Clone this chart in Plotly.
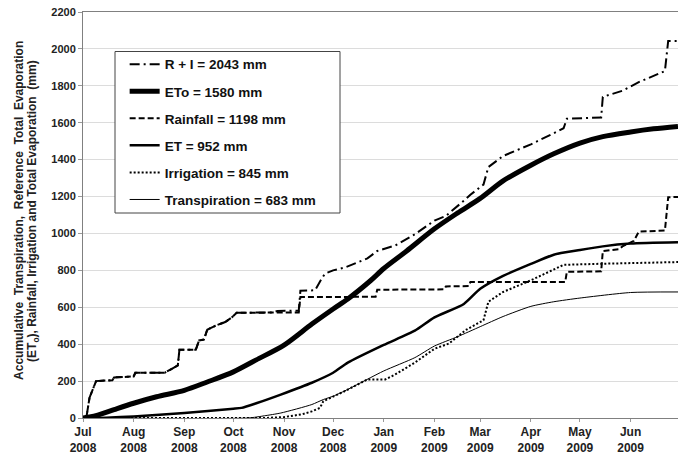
import plotly.graph_objects as go

# ---------------- data ----------------
ri_dates = ["2008-07-01","2008-07-03","2008-07-05","2008-07-09","2008-07-19","2008-07-20","2008-08-01","2008-08-02",
            "2008-08-20","2008-08-24","2008-08-28","2008-08-29","2008-09-08","2008-09-10","2008-09-13","2008-09-15",
            "2008-09-20","2008-09-26","2008-09-30","2008-10-03","2008-10-25","2008-10-28","2008-11-10","2008-11-11",
            "2008-11-20","2008-11-23","2008-11-26","2008-12-01","2008-12-08","2008-12-22","2008-12-28","2009-01-08",
            "2009-01-20","2009-02-01","2009-02-08","2009-02-20","2009-02-23","2009-03-03","2009-03-06","2009-03-15",
            "2009-04-01","2009-04-12","2009-04-21","2009-04-23","2009-05-14","2009-05-15","2009-05-27","2009-06-06",
            "2009-06-20","2009-06-22","2009-06-24","2009-06-30"]
ri_vals = [0,0,110,200,205,220,225,245,
           245,265,285,370,370,420,425,478,
           500,520,545,570,572,580,582,690,
           692,740,782,800,815,865,905,935,
           995,1070,1095,1185,1210,1265,1360,1420,
           1483,1530,1570,1622,1628,1740,1773,1820,
           1872,1880,2043,2043]

eto_dates = ["2008-07-01","2008-07-05","2008-07-10","2008-07-20","2008-08-01","2008-08-15","2008-09-01","2008-09-15",
             "2008-10-01","2008-10-15","2008-11-01","2008-11-18","2008-12-01","2008-12-10","2008-12-24","2009-01-01",
             "2009-01-15","2009-02-01","2009-02-15","2009-03-01","2009-03-15","2009-04-01","2009-04-15","2009-05-01",
             "2009-05-15","2009-06-01","2009-06-15","2009-06-30"]
eto_vals = [0,5,15,45,80,115,150,195,
            250,315,395,509,591,645,745,810,
            905,1025,1110,1190,1285,1370,1432,1490,
            1525,1550,1567,1580]

rain_dates = ["2008-07-01","2008-07-03","2008-07-05","2008-07-09","2008-07-19","2008-07-20","2008-08-01","2008-08-02",
              "2008-08-20","2008-08-24","2008-08-28","2008-08-29","2008-09-08","2008-09-10","2008-09-13","2008-09-15",
              "2008-09-20","2008-09-26","2008-09-30","2008-10-03","2008-11-10","2008-11-11","2008-12-27","2008-12-28",
              "2009-02-07","2009-02-08","2009-02-22","2009-02-23","2009-04-22","2009-04-23","2009-05-14","2009-05-15",
              "2009-05-25","2009-05-27","2009-06-03","2009-06-06","2009-06-22","2009-06-24","2009-06-30"]
rain_vals = [0,0,110,200,205,220,225,245,
             245,265,285,370,370,420,425,478,
             500,520,545,570,572,655,657,695,
             697,713,715,737,737,792,795,905,
             915,930,960,1010,1016,1196,1198]

et_dates = ["2008-07-01","2008-07-15","2008-08-01","2008-09-01","2008-10-01","2008-10-06","2008-10-15","2008-10-30",
            "2008-11-18","2008-12-01","2008-12-10","2009-01-01","2009-01-20","2009-02-01","2009-02-19","2009-03-01",
            "2009-03-15","2009-04-01","2009-04-15","2009-05-01","2009-05-15","2009-06-01","2009-06-30"]
et_vals = [0,2,8,27,50,55,80,127,
           191,245,300,396,473,545,618,700,
           770,835,885,910,930,945,952]

irr_dates = ["2008-07-01","2008-10-20","2008-11-01","2008-11-12","2008-11-18","2008-11-23","2008-11-25","2008-12-01",
             "2008-12-08","2008-12-22","2009-01-02","2009-01-08","2009-01-20","2009-02-01","2009-02-10","2009-02-20",
             "2009-03-03","2009-03-06","2009-03-15","2009-04-01","2009-04-12","2009-04-21","2009-05-15","2009-06-30"]
irr_vals = [0,0,5,20,36,55,91,115,
            145,209,209,236,300,375,404,476,
            530,630,683,746,791,830,836,845]

tr_dates = ["2008-07-01","2008-10-10","2008-10-20","2008-10-30","2008-11-18","2008-11-25","2008-12-01","2008-12-10",
            "2009-01-01","2009-01-20","2009-02-01","2009-02-15","2009-03-01","2009-03-15","2009-04-01","2009-04-15",
            "2009-05-01","2009-06-01","2009-06-30"]
tr_vals = [0,0,12,27,73,100,118,155,
           255,327,390,440,495,550,605,630,
           650,680,683]

names = ["R + I = 2043 mm", "ETo = 1580 mm", "Rainfall = 1198 mm",
         "ET = 952 mm", "Irrigation = 845 mm", "Transpiration = 683 mm"]

y_ticks = list(range(0, 2201, 200))

FONT = "Arial, 'Liberation Sans', sans-serif"

fig = go.Figure()
series = [
    (ri_dates, ri_vals, dict(color="black", width=2, dash="10px,4px,2px,4px")),
    (eto_dates, eto_vals, dict(color="black", width=5, shape="spline", smoothing=0.8)),
    (rain_dates, rain_vals, dict(color="black", width=2, dash="6px,3px")),
    (et_dates, et_vals, dict(color="black", width=2.5, shape="spline", smoothing=0.6)),
    (irr_dates, irr_vals, dict(color="black", width=2, dash="2px,2px")),
    (tr_dates, tr_vals, dict(color="black", width=1, shape="spline", smoothing=0.6)),
]
for i, (d, v, ln) in enumerate(series):
    fig.add_trace(go.Scatter(x=d, y=v, mode="lines", name=names[i], line=ln,
                             legendgroup=f"g{i}", showlegend=True))

fig.update_layout(
    width=678, height=458,
    margin=dict(l=83, r=0, t=12, b=40),
    paper_bgcolor="white", plot_bgcolor="white",
    font=dict(family=FONT, color="#222"),
    showlegend=True,
    legend=dict(x=0.07, y=0.909, xanchor="left", yanchor="top",
                bgcolor="rgba(0,0,0,0)", borderwidth=0,
                font=dict(family=FONT, size=13.5, color="#111", weight="bold"),
                tracegroupgap=6.5, traceorder="grouped"),
    xaxis=dict(type="date", range=["2008-07-01", "2009-06-30"],
               tick0="2008-07-01", dtick="M1", tickformat="%b<br>%Y",
               showgrid=False, showline=True, linecolor="#808080", linewidth=1,
               mirror=True, ticks="outside", ticklen=3, tickcolor="#999",
               tickfont=dict(family=FONT, size=12, color="#222", weight="bold")),
    yaxis=dict(range=[0, 2200], tickvals=y_ticks, showgrid=True, gridcolor="#dcdcdc",
               gridwidth=1, zeroline=False, showline=True, linecolor="#808080",
               linewidth=1, ticks="outside", ticklen=4, tickcolor="#999",
               tickfont=dict(family=FONT, size=11, color="#222", weight="bold")),
    shapes=[dict(type="rect", xref="paper", yref="paper",
                 x0=(115 - 83) / 595, x1=(340 - 83) / 595,
                 y0=(418 - 213) / 406, y1=(418 - 51.5) / 406,
                 line=dict(color="#444", width=1), fillcolor="white", layer="above")],
    annotations=[
        dict(text="<b>Accumulative  Transpiration,  Reference  Total  Evaporation</b>",
             xref="paper", yref="paper", x=0, y=0.51, xshift=-64, textangle=-90,
             xanchor="center", yanchor="middle", showarrow=False,
             font=dict(family=FONT, size=12, color="#222")),
        dict(text="<b>(ET<sub>o</sub>), Rainfall, Irrigation and Total Evaporation  (mm)</b>",
             xref="paper", yref="paper", x=0, y=0.51, xshift=-50, textangle=-90,
             xanchor="center", yanchor="middle", showarrow=False,
             font=dict(family=FONT, size=12, color="#222")),
    ],
)

fig.write_html("out.html")
